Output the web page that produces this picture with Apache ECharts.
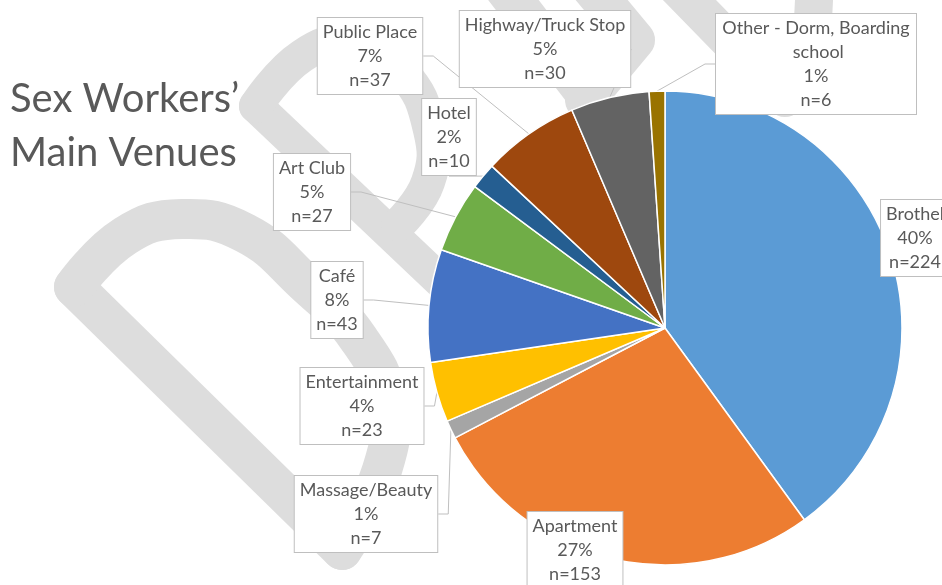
<!DOCTYPE html>
<html>
<head>
<meta charset="utf-8">
<script src="https://cdn.jsdelivr.net/npm/echarts@6/dist/echarts.min.js"></script>
<style>
html,body{margin:0;padding:0;background:#fff;}
#chart{width:942px;height:585px;}
</style>
</head>
<body>
<div id="chart"></div>
<script>
// ---- data ----
const categories = ['Brothel','Apartment','Massage/Beauty','Entertainment','Café','Art Club','Hotel','Public Place','Highway/Truck Stop','Other - Dorm, Boarding school'];
const counts = [224,153,7,23,43,27,10,37,30,6];
const sliceColors = ['#5B9BD5','#ED7D31','#A5A5A5','#FFC000','#4472C4','#70AD47','#255E91','#9E480E','#636363','#997300'];
const titleText = 'Sex Workers\u2019\nMain Venues';

// ---- layout (label box centres) ----
const labelCenters = [[915,238],[575,550],[366,514],[362,406],[337,300],[312,192],[449,137],[370,56],[545,49],[816,64]];
const noLine = [0,1];

const chart = echarts.init(document.getElementById('chart'), null, {renderer:'canvas'});

const data = categories.map((name,i)=>{
  const item = {name, value: counts[i], itemStyle:{color: sliceColors[i]}};
  if (noLine.includes(i)) item.labelLine = {show:false};
  if (i === 9) item.label = {width: 190, overflow: 'break'};
  return item;
});

const band = '#dddddd';
function bandLine(points, w, smooth){
  return {type:'polyline', z:-10, silent:true,
    shape:{points, smooth: smooth || 0},
    style:{stroke:band, lineWidth:w, fill:null, lineJoin:'round', lineCap:'round'}};
}

const option = {
  backgroundColor:'#fff',
  animation:false,
  title:{
    text:titleText, left:5, top:67,
    textStyle:{fontFamily:'Lato', fontWeight:'normal', fontSize:40, lineHeight:54, color:'#595959'}
  },
  graphic:[
    // lower leaf
    bandLine([[74,287],[342,550]],40),
    bandLine([[74,287],[125,236],[182,219],[245,233],[305,283],[358,338],[388,402],[382,470],[342,550]],40,0.45),
    // upper leaf
    bandLine([[256,106],[450,290]],34),
    bandLine([[256,106],[302,56],[350,43],[402,72],[430,130],[428,182],[398,225]],34,0.45),
    // top right marks
    bandLine([[498,-20],[592,102]],40),
    bandLine([[585,-20],[635,40],[585,100]],40),
    bandLine([[670,-20],[785,98],[812,40],[815,-20]],38)
  ],
  series:[{
    type:'pie',
    center:[665,328],
    radius:237,
    startAngle:90,
    clockwise:true,
    percentPrecision:0,
    avoidLabelOverlap:false,
    data,
    itemStyle:{borderColor:'#ffffff', borderWidth:1.5},
    label:{
      show:true,
      formatter:'{b}\n{d}%\nn={c}',
      fontFamily:'Lato', fontSize:18, lineHeight:24, color:'#595959',
      backgroundColor:'#ffffff', borderColor:'#bfbfbf', borderWidth:1,
      padding:[2,5], align:'center'
    },
    labelLine:{show:true, length:10, length2:10, lineStyle:{color:'#bfbfbf', width:1}},
    labelLayout: function(p){
      const c = labelCenters[p.dataIndex];
      return {x:c[0], y:c[1], align:'center', verticalAlign:'middle', hideOverlap:false};
    },
    emphasis:{disabled:true}
  }]
};
chart.setOption(option);
</script>
</body>
</html>
